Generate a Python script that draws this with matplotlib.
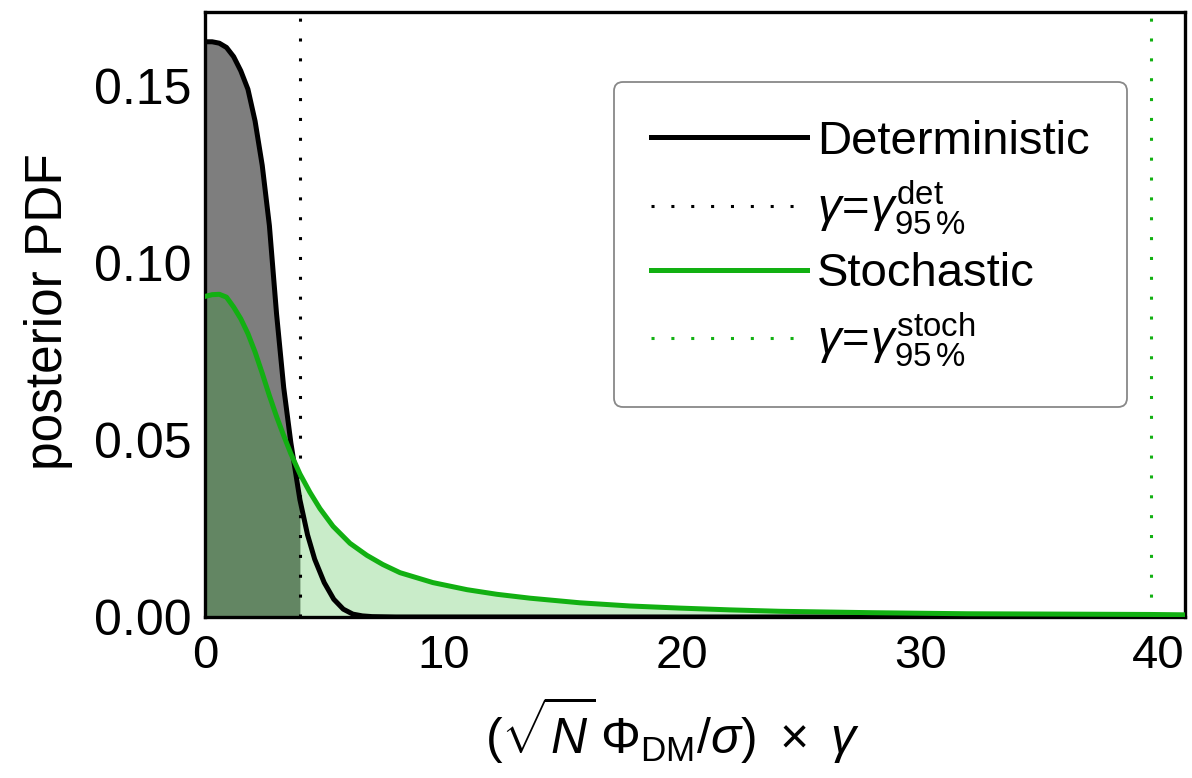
import numpy as np
import matplotlib.pyplot as plt

plt.rcParams['font.family'] = ['Liberation Sans', 'DejaVu Sans']
plt.rcParams['mathtext.fontset'] = 'custom'
plt.rcParams['mathtext.rm'] = 'Liberation Sans'
plt.rcParams['mathtext.it'] = 'Liberation Sans:italic'
plt.rcParams['mathtext.bf'] = 'Liberation Sans:bold'

# values
det_x = [0.0, 0.3, 0.6, 0.9, 1.2, 1.5, 1.8, 2.1, 2.4, 2.7, 3.0, 3.3, 3.6, 3.98,
         4.3, 4.6, 5.0, 5.4, 5.8, 6.2, 6.6, 7.0, 8.0, 41.1]
det_y = [0.1624, 0.1624, 0.1620, 0.1608, 0.1582, 0.1542, 0.1490, 0.1400, 0.1275,
         0.1105, 0.0856, 0.0648, 0.0492, 0.0331, 0.0232, 0.0163, 0.0097, 0.0050,
         0.0022, 0.0008, 0.0003, 0.0001, 0.0, 0.0]

stoch_x = [0.0, 0.3, 0.6, 0.9, 1.2, 1.5, 1.8, 2.1, 2.4, 2.7, 3.0, 3.3, 3.6, 3.98,
           4.4, 4.82, 5.37, 6.08, 6.79, 7.46, 8.18, 9.56, 10.99, 12.24, 13.63,
           15.72, 17.82, 19.92, 22.01, 24.1, 28.0, 32.0, 36.0, 39.7, 41.1]
stoch_y = [0.0905, 0.0910, 0.0911, 0.0903, 0.0875, 0.0842, 0.0800, 0.0748, 0.0688,
           0.0625, 0.0566, 0.0512, 0.0461, 0.0404, 0.0352, 0.0306, 0.0256, 0.0208,
           0.0174, 0.0148, 0.0125, 0.0097, 0.0077, 0.0064, 0.0053, 0.0040, 0.0031,
           0.0025, 0.0020, 0.0016, 0.0012, 0.0009, 0.0008, 0.0007, 0.0006]

gamma95_det = 3.98
gamma95_stoch = 39.7

x_ticks = [0, 10, 20, 30, 40]
y_ticks = [0.0, 0.05, 0.10, 0.15]

green = '#12b012'
det_x = np.array(det_x)
det_y = np.array(det_y)
stoch_x = np.array(stoch_x)
stoch_y = np.array(stoch_y)

fs = 34
fig = plt.figure(figsize=(11.92, 7.78), dpi=100)
ax = fig.add_axes([0.172, 0.207, 0.822, 0.778])

# shaded areas up to the 95% limits
m = det_x <= gamma95_det
ax.fill_between(det_x[m], det_y[m], color='#7e7e7e', lw=0, zorder=1)
m = stoch_x <= gamma95_stoch
ax.fill_between(stoch_x[m], stoch_y[m], color='#00a800', alpha=0.21, lw=0, zorder=2)

dots = (0, (1, 5.5))
ax.axvline(gamma95_det, color='black', lw=2.2, ls=dots, zorder=3,
           label=r'$\gamma\!=\!\gamma^{\mathrm{det}}_{95\,\%}$')
ax.axvline(gamma95_stoch, color=green, lw=2.2, ls=dots, zorder=3,
           label=r'$\gamma\!=\!\gamma^{\mathrm{stoch}}_{95\,\%}$')
ax.plot(det_x, det_y, color='black', lw=3.6, zorder=4, label='Deterministic')
ax.plot(stoch_x, stoch_y, color=green, lw=3.6, zorder=5, label='Stochastic')

ax.set_xlim(0, 41.1)
ax.set_ylim(0, 0.1709)
ax.set_xticks(x_ticks)
ax.set_yticks(y_ticks)
ax.set_yticklabels(['%.2f' % v for v in y_ticks])
ax.tick_params(length=0)
ax.tick_params(axis='y', pad=10, labelsize=36)
ax.tick_params(axis='x', pad=12, labelsize=fs)
for s in ax.spines.values():
    s.set_linewidth(2.4)

ax.set_xlabel(r'$(\sqrt{N}\,\Phi_{\mathrm{DM}}/\sigma)\ \times\ \gamma$', fontsize=36)
ax.xaxis.set_label_coords(0.477, -0.128)
ax.set_ylabel('posterior PDF', fontsize=37)
ax.yaxis.set_label_coords(-0.135, 0.505)

h, l = ax.get_legend_handles_labels()
order = [2, 0, 3, 1]
leg = ax.legend([h[i] for i in order], [l[i] for i in order], loc='upper right',
                bbox_to_anchor=(0.941, 0.884), borderaxespad=0, fontsize=fs,
                handlelength=3.3, handletextpad=0.2, labelspacing=0.32,
                borderpad=0.8, fancybox=True, framealpha=1, edgecolor='#888888')
leg.get_frame().set_linewidth(1.3)

fig.savefig('out.png', dpi=100)
